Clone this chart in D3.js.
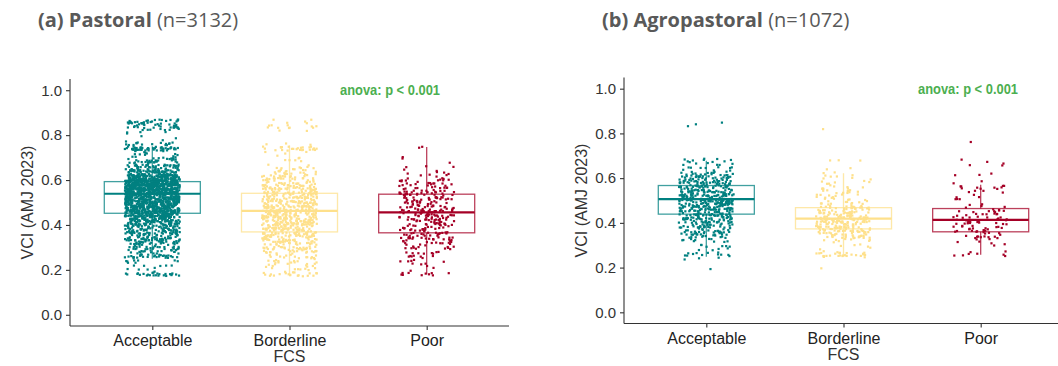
<!DOCTYPE html>
<html>
<head>
<meta charset="utf-8">
<script src="https://cdn.jsdelivr.net/npm/d3@7"></script>
<style>
  body { margin: 0; background: #fff; }
  svg { display: block; }
</style>
</head>
<body>
<svg width="1058" height="366"></svg>
<script>
const categories = ["Acceptable", "Borderline", "Poor"]
const colors = ["#008080", "#fee08b", "#a50026"]
const yTicks = [0, 0.2, 0.4, 0.6, 0.8, 1.0]

// VCI bin centres (width 0.02) used for the point clouds
const vciBins = [0.18, 0.20, 0.22, 0.24, 0.26, 0.28, 0.30, 0.32, 0.34, 0.36,
                 0.38, 0.40, 0.42, 0.44, 0.46, 0.48, 0.50, 0.52, 0.54, 0.56,
                 0.58, 0.60, 0.62, 0.64, 0.66, 0.68, 0.70, 0.72, 0.74, 0.76,
                 0.78, 0.80, 0.82, 0.84, 0.86]

// point counts per bin, pastoral
const pastoralAcceptable = [25, 5, 5, 8, 30, 20, 25, 35, 45, 45,
                            50, 60, 75, 90, 110, 115, 120, 130, 150, 160,
                            160, 130, 90, 60, 40, 25, 15, 10, 50, 15,
                            3, 2, 10, 25, 30]
const pastoralBorderline = [20, 8, 10, 12, 15, 20, 25, 30, 35, 40,
                            45, 50, 50, 50, 50, 45, 45, 40, 40, 35,
                            30, 25, 20, 15, 8, 4, 3, 3, 25, 3,
                            0, 0, 2, 10, 5]
const pastoralPoor = [10, 2, 4, 5, 7, 8, 12, 14, 18, 20,
                      18, 20, 22, 25, 30, 20, 18, 20, 25, 15,
                      15, 12, 6, 4, 3, 1, 2, 0, 2, 0,
                      0, 0, 0, 0, 0]

// point counts per bin, agropastoral
const agroAcceptable = [0, 1, 0, 3, 12, 4, 6, 10, 20, 25,
                        25, 30, 35, 40, 45, 50, 55, 45, 40, 35,
                        35, 30, 20, 10, 6, 10, 0, 0, 0, 0,
                        0, 0, 0, 3, 0]
const agroBorderline = [0, 1, 0, 2, 25, 3, 4, 8, 25, 30,
                        35, 35, 40, 30, 25, 15, 10, 10, 10, 8,
                        6, 5, 4, 2, 0, 3, 0, 0, 0, 0,
                        0, 0, 1, 0, 0]
const agroPoor = [0, 0, 0, 0, 7, 1, 3, 4, 10, 12,
                  12, 14, 12, 10, 8, 4, 3, 3, 4, 10,
                  2, 0, 3, 0, 3, 2, 0, 0, 0, 1,
                  0, 0, 0, 0, 0]

// box statistics (lower whisker, q1, median, q3, upper whisker)
const pastoralLow = [0.25, 0.18, 0.18]
const pastoralQ1 = [0.452, 0.369, 0.365]
const pastoralMedian = [0.539, 0.463, 0.456]
const pastoralQ3 = [0.593, 0.541, 0.537]
const pastoralHigh = [0.75, 0.754, 0.747]

const agroLow = [0.249, 0.252, 0.257]
const agroQ1 = [0.439, 0.373, 0.36]
const agroMedian = [0.506, 0.419, 0.413]
const agroQ3 = [0.567, 0.468, 0.464]
const agroHigh = [0.678, 0.622, 0.57]

const svg = d3.select("svg")

// fixed hash for the jitter, so the picture is the same every run
function hash(n){
    const s = Math.sin(n * 12.9898 + 78.233) * 43758.5453
    return s - Math.floor(s)
}

function drawPanel(opts){
    const g = svg.append("g")

    const x = d3.scalePoint()
        .domain(categories)
        .range([opts.left, opts.right])
        .padding(0.6)
    const step = x.step()

    const y = d3.scaleLinear()
        .domain([-0.05, 1.05])
        .range([opts.bottom, opts.top])

    // jittered points
    const points = []
    opts.counts.forEach((counts, s) => {
        counts.forEach((c, i) => {
            for(let k = 0; k < c; k++){
                const id = opts.seed + s * 10007 + i * 211 + k
                points.push({
                    cat: categories[s],
                    s: s,
                    vx: (2 * hash(id) - 1) * 0.2,
                    vy: vciBins[i] + (hash(id + 0.5) - 0.5) * 0.018
                })
            }
        })
    })

    g.append("g")
        .selectAll("rect.pt")
        .data(points)
        .enter()
        .append("rect")
        .attr("class", "pt")
        .attr("x", d => x(d.cat) + d.vx * step - 1.1)
        .attr("y", d => y(d.vy) - 1.1)
        .attr("width", 2.2)
        .attr("height", 2.2)
        .style("fill", d => colors[d.s])

    // boxes
    const boxes = categories.map((c, i) => ({
        cat: c, i: i,
        low: opts.low[i], q1: opts.q1[i], med: opts.median[i],
        q3: opts.q3[i], high: opts.high[i]
    }))
    const bw = 0.35 * step

    const boxG = g.append("g")
        .selectAll("g.box")
        .data(boxes)
        .enter()
        .append("g")
        .attr("class", "box")

    boxG.append("line")
        .attr("x1", d => x(d.cat)).attr("x2", d => x(d.cat))
        .attr("y1", d => y(d.q3)).attr("y2", d => y(d.high))
        .style("stroke", d => colors[d.i])
        .style("stroke-opacity", 0.75)
        .style("stroke-width", 1.3)
    boxG.append("line")
        .attr("x1", d => x(d.cat)).attr("x2", d => x(d.cat))
        .attr("y1", d => y(d.q1)).attr("y2", d => y(d.low))
        .style("stroke", d => colors[d.i])
        .style("stroke-opacity", 0.75)
        .style("stroke-width", 1.3)
    boxG.append("rect")
        .attr("x", d => x(d.cat) - bw)
        .attr("width", 2 * bw)
        .attr("y", d => y(d.q3))
        .attr("height", d => y(d.q1) - y(d.q3))
        .style("fill", "none")
        .style("stroke", d => colors[d.i])
        .style("stroke-opacity", 0.75)
        .style("stroke-width", 1.3)
    boxG.append("line")
        .attr("x1", d => x(d.cat) - bw).attr("x2", d => x(d.cat) + bw)
        .attr("y1", d => y(d.med)).attr("y2", d => y(d.med))
        .style("stroke", d => colors[d.i])
        .style("stroke-width", 2.2)

    // axes
    const yAxis = d3.axisLeft(y).tickValues(yTicks).tickFormat(d3.format(".1f"))
        .tickSize(4).tickPadding(4)
    const ya = g.append("g")
        .attr("transform", `translate(${opts.left}, 0)`)
        .call(yAxis)
    ya.select(".domain").attr("d", `M0,${opts.top}V${opts.bottom}`)

    const xAxis = d3.axisBottom(x).tickSize(4).tickPadding(5)
    const xa = g.append("g")
        .attr("transform", `translate(0, ${opts.bottom})`)
        .call(xAxis)
    xa.select(".domain").attr("d", `M${opts.left},0H${opts.right}`)

    g.selectAll(".domain").style("stroke", "#333").style("stroke-width", 1.1)
    g.selectAll(".tick line").style("stroke", "#333").style("stroke-width", 1.1)
    ya.selectAll(".tick text")
        .style("font-family", "'Liberation Sans', Arial, sans-serif")
        .style("font-size", "15px").style("fill", "#333")
    xa.selectAll(".tick text")
        .style("font-family", "'Liberation Sans', Arial, sans-serif")
        .style("font-size", "16px").style("fill", "#222")

    // axis titles
    g.append("text")
        .text("VCI (AMJ 2023)")
        .attr("transform", `translate(${opts.left - 37}, ${(opts.top + opts.bottom) / 2}) rotate(-90)`)
        .style("text-anchor", "middle")
        .style("font-family", "'Liberation Sans', Arial, sans-serif")
        .style("font-size", "16px")
        .style("fill", "#333")

    g.append("text")
        .text("FCS")
        .attr("x", (opts.left + opts.right) / 2)
        .attr("y", opts.bottom + 36)
        .style("text-anchor", "middle")
        .style("font-family", "'Liberation Sans', Arial, sans-serif")
        .style("font-size", "16px")
        .style("fill", "#333")

    // anova label
    g.append("text")
        .text("anova: p < 0.001")
        .attr("x", opts.anovaX)
        .attr("y", y(1.0) + 5)
        .attr("textLength", 100)
        .attr("lengthAdjust", "spacingAndGlyphs")
        .style("font-family", "'Liberation Sans', Arial, sans-serif")
        .style("font-weight", "bold")
        .style("font-size", "14px")
        .style("fill", "#4caf50")

    // panel title
    const title = svg.append("text")
        .attr("x", opts.titleX)
        .attr("y", 27)
        .style("font-family", "'Open Sans', sans-serif")
        .style("font-size", "20px")
        .style("fill", "#595959")
    title.append("tspan").text(opts.title).style("font-weight", "bold")
    title.append("tspan").text(" " + opts.n)
}

drawPanel({
    left: 70, right: 509, top: 79, bottom: 326, seed: 1,
    titleX: 38, title: "(a) Pastoral", n: "(n=3132)", anovaX: 340,
    counts: [pastoralAcceptable, pastoralBorderline, pastoralPoor],
    low: pastoralLow, q1: pastoralQ1, median: pastoralMedian, q3: pastoralQ3, high: pastoralHigh
})

drawPanel({
    left: 624, right: 1063, top: 77.5, bottom: 323.5, seed: 50000,
    titleX: 602, title: "(b) Agropastoral", n: "(n=1072)", anovaX: 918,
    counts: [agroAcceptable, agroBorderline, agroPoor],
    low: agroLow, q1: agroQ1, median: agroMedian, q3: agroQ3, high: agroHigh
})
</script>
</body>
</html>
